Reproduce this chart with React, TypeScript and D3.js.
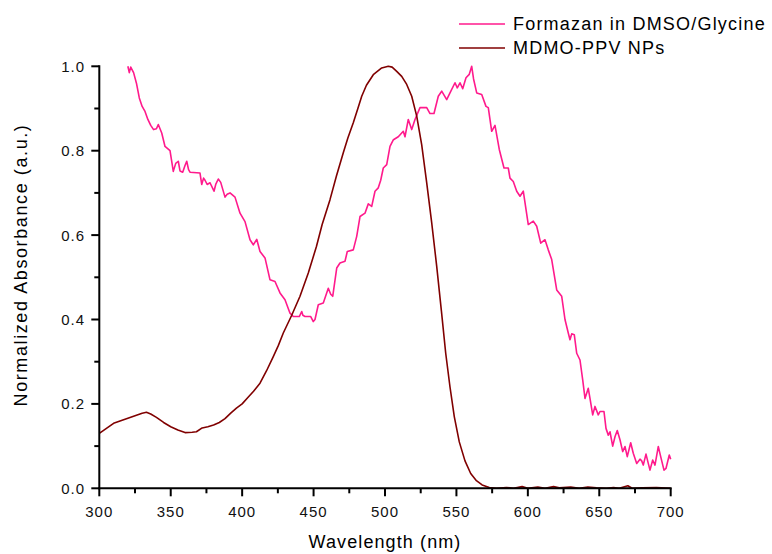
import React from "react";
import * as d3 from "d3";

const formazanWl = [320,321,322,324,326,328,330,332,334,336,338,340,341.3,343.7,346,349.5,351.8,353.5,355.3,356.5,358.4,360,361.2,362.5,363.5,370.5,371.7,373,374,375.5,377.5,380.3,381.5,383.3,385,388,389.5,391.5,395,398.5,402,405.5,407.8,410.2,412.5,416,419.5,423,426.5,430,433.5,435.8,440,441.7,442.5,444,448,449.8,451,453.3,456.8,460.3,462,463.4,466.2,468.5,472,473.6,477.8,480.2,482.5,486,488.3,490.7,493,495.3,497,498.8,501.2,503.5,505.9,509.3,512.8,514,516.3,518.7,521,524.5,529.2,531.5,534.3,537.3,539.7,543.2,545.5,549,550.6,552.5,554.4,556.7,559,560.7,562,564.2,567.7,570.7,572.3,574.7,577,580,583.3,586.3,587.5,589.8,592.2,594.5,596.8,600.3,603.8,606.2,609,612,614.3,616.7,620.2,623.7,626,628.3,629.5,630.7,632.5,634.2,636.5,638.4,640,642.3,643.5,645.4,647,649.3,650.5,653.3,654.7,656.3,657.5,659.4,661,662.6,664.5,666.4,668,669.6,672,673.8,676.2,678.5,679.7,680.8,682.7,684.3,685.5,687.4,689,691.3,693,695.3,696.7,699,700];
const formazanAbs = [1.0,0.985,0.998,0.985,0.96,0.925,0.905,0.893,0.874,0.86,0.85,0.852,0.862,0.842,0.81,0.8,0.751,0.77,0.775,0.752,0.749,0.765,0.775,0.755,0.749,0.747,0.72,0.735,0.73,0.72,0.724,0.704,0.72,0.733,0.725,0.69,0.697,0.7,0.69,0.652,0.632,0.589,0.577,0.59,0.561,0.546,0.494,0.49,0.463,0.447,0.415,0.407,0.407,0.419,0.41,0.407,0.407,0.395,0.4,0.435,0.439,0.474,0.46,0.455,0.522,0.534,0.538,0.561,0.565,0.597,0.644,0.652,0.674,0.668,0.704,0.712,0.73,0.759,0.767,0.81,0.826,0.833,0.846,0.833,0.874,0.85,0.874,0.902,0.902,0.888,0.888,0.929,0.941,0.921,0.937,0.961,0.949,0.961,0.947,0.973,0.981,1.0,0.97,0.937,0.933,0.905,0.902,0.846,0.86,0.803,0.759,0.759,0.735,0.727,0.704,0.692,0.704,0.625,0.633,0.621,0.581,0.589,0.565,0.542,0.47,0.455,0.4,0.368,0.352,0.366,0.364,0.32,0.304,0.257,0.213,0.237,0.213,0.174,0.194,0.174,0.182,0.182,0.142,0.126,0.134,0.1,0.122,0.137,0.115,0.087,0.099,0.075,0.108,0.083,0.059,0.069,0.065,0.055,0.081,0.059,0.043,0.067,0.055,0.099,0.075,0.043,0.047,0.079,0.069];

const mdmoWl = [300,305,310,315,320,325,330,333,336,340,345,350,355,360,365,368,372,376,380,384,388,392,396,400,404,408,412.5,417,421.8,425.3,428.8,434.7,440.5,446.3,452,456,461.5,466,470.8,474,477.8,481,483.7,487,491.8,497.7,502.3,505,508.2,511.7,515.2,518.7,522.2,525.7,529.2,532.7,536.2,539.5,542.5,545.5,548.5,552,556,560,564,568,573,578,585,590,596,600,607,612,618,622,630,636,642,648,655,660,664,670,673,680,690,700];
const mdmoAbs = [0.13,0.142,0.154,0.16,0.166,0.172,0.178,0.18,0.176,0.168,0.156,0.146,0.138,0.132,0.133,0.134,0.143,0.146,0.15,0.156,0.165,0.178,0.19,0.2,0.215,0.23,0.249,0.278,0.312,0.338,0.368,0.41,0.455,0.51,0.573,0.625,0.684,0.74,0.795,0.83,0.866,0.9,0.929,0.955,0.98,0.996,1.0,0.998,0.988,0.976,0.957,0.929,0.882,0.814,0.724,0.629,0.526,0.42,0.32,0.24,0.17,0.11,0.065,0.035,0.018,0.008,0.002,0.0,0.002,0.0,0.004,0.0,0.003,0.0,0.004,0.001,0.003,0.0,0.003,0.001,0.0,0.002,0.0,0.006,0.0,0.001,0.002,0.0];

const xMajorTicks = [300,350,400,450,500,550,600,650,700];
const xMinorTicks = [325,375,425,475,525,575,625,675];
const yMajorTicks = [0,0.2,0.4,0.6,0.8,1.0];
const yMinorTicks = [0.1,0.3,0.5,0.7,0.9];

const seriesNames = ["Formazan in DMSO/Glycine", "MDMO-PPV NPs"];
const seriesColors = ["#ff1a8c", "#800000"];

export default function App() {
  const x = d3.scaleLinear().domain([300, 700]).range([99.3, 670.7]);
  const y = d3.scaleLinear().domain([0, 1]).range([488.3, 66.3]);
  const line = d3.line<[number, number]>().x(d => x(d[0])).y(d => y(d[1]));
  const fData = formazanWl.map((w, i) => [w, formazanAbs[i]] as [number, number]);
  const mData = mdmoWl.map((w, i) => [w, mdmoAbs[i]] as [number, number]);
  const font = "'Liberation Sans', Arial, sans-serif";
  const x0 = x(300), x1 = x(700), y0 = y(0), y1 = y(1);
  return (
    <svg width={772} height={554} style={{ position: "absolute", left: 0, top: 0, background: "#fff" }} fontFamily={font}>
      <rect width={772} height={554} fill="#fff" />
      <path d={line(fData) || ""} fill="none" stroke={seriesColors[0]} strokeWidth={1.6} strokeLinejoin="round" />
      <path d={line(mData) || ""} fill="none" stroke={seriesColors[1]} strokeWidth={1.6} strokeLinejoin="round" />
      {/* axes */}
      <line x1={x0} x2={x0} y1={y1 - 1} y2={y0 + 1} stroke="#000" strokeWidth={2} />
      <line x1={x0 - 1} x2={x1 + 1} y1={y0} y2={y0} stroke="#000" strokeWidth={2} />
      {xMajorTicks.map(t => (
        <g key={"xM" + t}>
          <line x1={x(t)} x2={x(t)} y1={y0} y2={y0 + 8} stroke="#000" strokeWidth={2} />
          <text x={x(t)} y={517} textAnchor="middle" fontSize={15} letterSpacing={1} fill="#111">{t}</text>
        </g>
      ))}
      {xMinorTicks.map(t => (
        <line key={"xm" + t} x1={x(t)} x2={x(t)} y1={y0} y2={y0 + 5} stroke="#000" strokeWidth={2} />
      ))}
      {yMajorTicks.map(t => (
        <g key={"yM" + t}>
          <line x1={x0 - 8} x2={x0} y1={y(t)} y2={y(t)} stroke="#000" strokeWidth={2} />
          <text x={85} y={y(t) + 5.5} textAnchor="end" fontSize={15} letterSpacing={1} fill="#111">{t.toFixed(1)}</text>
        </g>
      ))}
      {yMinorTicks.map(t => (
        <line key={"ym" + t} x1={x0 - 5} x2={x0} y1={y(t)} y2={y(t)} stroke="#000" strokeWidth={2} />
      ))}
      <text x={385} y={548} textAnchor="middle" fontSize={18} letterSpacing={1.1} fill="#000">Wavelength (nm)</text>
      <text transform="translate(27,265) rotate(-90)" textAnchor="middle" fontSize={18} letterSpacing={1.6} fill="#000">Normalized Absorbance (a.u.)</text>
      {/* legend */}
      {seriesNames.map((n, i) => (
        <g key={n}>
          <line x1={459} x2={505} y1={24 + i * 24} y2={24 + i * 24} stroke={seriesColors[i]} strokeWidth={1.6} />
          <text x={513} y={30 + i * 24} fontSize={18} letterSpacing={1.2} fill="#000">{n}</text>
        </g>
      ))}
    </svg>
  );
}
